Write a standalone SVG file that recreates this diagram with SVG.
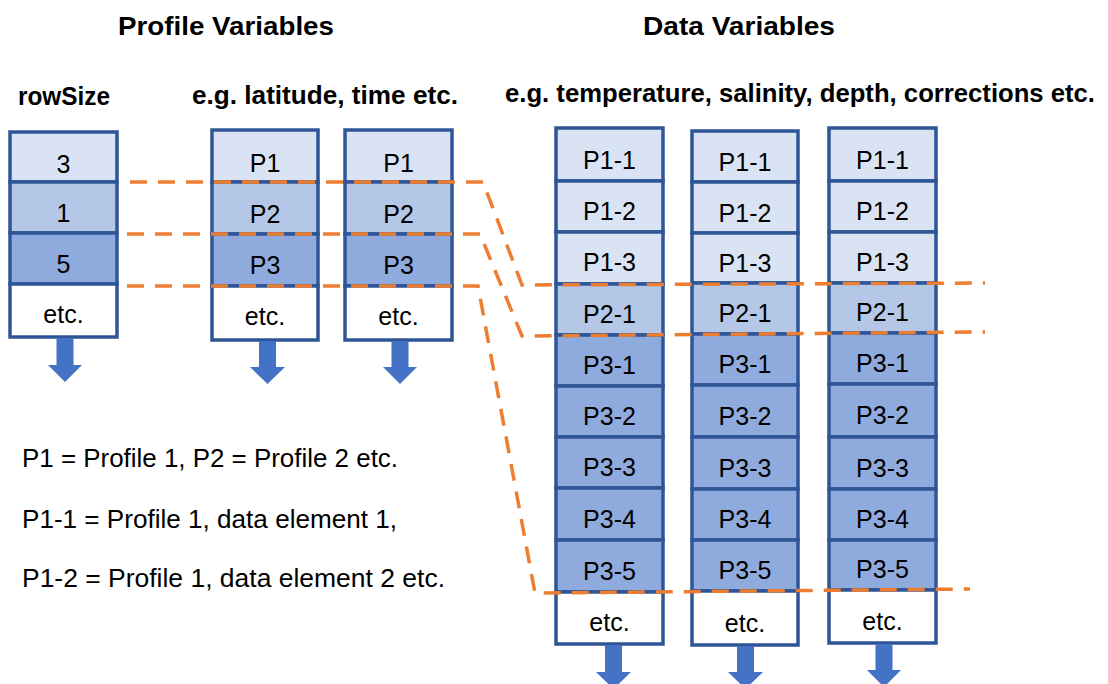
<svg xmlns="http://www.w3.org/2000/svg" width="1108" height="684" viewBox="0 0 1108 684">
<style>
.c{stroke:#2F5597;stroke-width:3.5}
.l1{fill:#DAE3F3}.l2{fill:#B4C7E7}.l3{fill:#8FAADC}.l0{fill:#FFFFFF}
.t{font-family:"Liberation Sans",Arial,sans-serif;font-size:25px;fill:#000;text-anchor:middle}
.h{font-family:"Liberation Sans",Arial,sans-serif;font-size:26px;font-weight:bold;fill:#000}
.n{font-family:"Liberation Sans",Arial,sans-serif;font-size:26px;fill:#000}
.arr{fill:#4472C4}
.d{fill:none;stroke:#ED7D31;stroke-width:3.5;stroke-dasharray:17 11}
</style>
<rect width="1108" height="684" fill="#FFFFFF"/>
<g id="headings">
<text class="h" x="118" y="35" textLength="216" lengthAdjust="spacingAndGlyphs">Profile Variables</text>
<text class="h" x="643" y="35" textLength="192" lengthAdjust="spacingAndGlyphs">Data Variables</text>
<text class="h" x="18" y="105" textLength="92" lengthAdjust="spacingAndGlyphs">rowSize</text>
<text class="h" x="192" y="104" textLength="266" lengthAdjust="spacingAndGlyphs">e.g. latitude, time etc.</text>
<text class="h" x="505" y="102" textLength="590" lengthAdjust="spacingAndGlyphs">e.g. temperature, salinity, depth, corrections etc.</text>
</g>
<g id="rowSize">
<rect class="c l1" x="10" y="132" width="107" height="50"/>
<rect class="c l2" x="10" y="182" width="107" height="51"/>
<rect class="c l3" x="10" y="233" width="107" height="51"/>
<rect class="c l0" x="10" y="284" width="107" height="53"/>
<text class="t" x="63.5" y="173">3</text>
<text class="t" x="63.5" y="222">1</text>
<text class="t" x="63.5" y="273">5</text>
<text class="t" x="63.5" y="323">etc.</text>
<path class="arr" d="M56.5,338 H73.5 V365 H82 L65,382 L48,365 H56.5 Z"/>
</g>
<g id="profileA">
<rect class="c l1" x="212" y="130" width="106" height="52"/>
<rect class="c l2" x="212" y="182" width="106" height="52"/>
<rect class="c l3" x="212" y="234" width="106" height="52"/>
<rect class="c l0" x="212" y="286" width="106" height="54"/>
<text class="t" x="265" y="172">P1</text>
<text class="t" x="265" y="223">P2</text>
<text class="t" x="265" y="274">P3</text>
<text class="t" x="265" y="325">etc.</text>
<path class="arr" d="M259,341 H276 V367 H285 L267.5,384 L250,367 H259 Z"/>
</g>
<g id="profileB">
<rect class="c l1" x="345" y="130" width="107" height="52"/>
<rect class="c l2" x="345" y="182" width="107" height="52"/>
<rect class="c l3" x="345" y="234" width="107" height="52"/>
<rect class="c l0" x="345" y="286" width="107" height="54"/>
<text class="t" x="398.5" y="172">P1</text>
<text class="t" x="398.5" y="223">P2</text>
<text class="t" x="398.5" y="274">P3</text>
<text class="t" x="398.5" y="325">etc.</text>
<path class="arr" d="M391.5,341 H408.5 V367 H417 L400,384 L383,367 H391.5 Z"/>
</g>
<g id="data1">
<rect class="c l1" x="556" y="128" width="107" height="53"/>
<rect class="c l1" x="556" y="181" width="107" height="51"/>
<rect class="c l1" x="556" y="232" width="107" height="52"/>
<rect class="c l2" x="556" y="284" width="107" height="51"/>
<rect class="c l3" x="556" y="335" width="107" height="51"/>
<rect class="c l3" x="556" y="386" width="107" height="51"/>
<rect class="c l3" x="556" y="437" width="107" height="51"/>
<rect class="c l3" x="556" y="488" width="107" height="52"/>
<rect class="c l3" x="556" y="540" width="107" height="52"/>
<rect class="c l0" x="556" y="592" width="107" height="52"/>
<text class="t" x="609.5" y="169">P1-1</text>
<text class="t" x="609.5" y="220">P1-2</text>
<text class="t" x="609.5" y="271">P1-3</text>
<text class="t" x="609.5" y="323">P2-1</text>
<text class="t" x="609.5" y="374">P3-1</text>
<text class="t" x="609.5" y="425">P3-2</text>
<text class="t" x="609.5" y="476">P3-3</text>
<text class="t" x="609.5" y="528">P3-4</text>
<text class="t" x="609.5" y="580">P3-5</text>
<text class="t" x="609.5" y="631">etc.</text>
<path class="arr" d="M605,645 H622 V672 H631 L613.5,689 L596,672 H605 Z"/>
</g>
<g id="data2">
<rect class="c l1" x="692" y="131" width="106" height="51"/>
<rect class="c l1" x="692" y="182" width="106" height="51"/>
<rect class="c l1" x="692" y="233" width="106" height="50"/>
<rect class="c l2" x="692" y="283" width="106" height="51"/>
<rect class="c l3" x="692" y="334" width="106" height="51"/>
<rect class="c l3" x="692" y="385" width="106" height="52"/>
<rect class="c l3" x="692" y="437" width="106" height="52"/>
<rect class="c l3" x="692" y="489" width="106" height="51"/>
<rect class="c l3" x="692" y="540" width="106" height="51"/>
<rect class="c l0" x="692" y="591" width="106" height="54"/>
<text class="t" x="745" y="171">P1-1</text>
<text class="t" x="745" y="222">P1-2</text>
<text class="t" x="745" y="272">P1-3</text>
<text class="t" x="745" y="322">P2-1</text>
<text class="t" x="745" y="373">P3-1</text>
<text class="t" x="745" y="425">P3-2</text>
<text class="t" x="745" y="477">P3-3</text>
<text class="t" x="745" y="528">P3-4</text>
<text class="t" x="745" y="579">P3-5</text>
<text class="t" x="745" y="632">etc.</text>
<path class="arr" d="M737,646 H754 V672 H763 L745.5,689 L728,672 H737 Z"/>
</g>
<g id="data3">
<rect class="c l1" x="829" y="128" width="107" height="53"/>
<rect class="c l1" x="829" y="181" width="107" height="51"/>
<rect class="c l1" x="829" y="232" width="107" height="51"/>
<rect class="c l2" x="829" y="283" width="107" height="50"/>
<rect class="c l3" x="829" y="333" width="107" height="51"/>
<rect class="c l3" x="829" y="384" width="107" height="53"/>
<rect class="c l3" x="829" y="437" width="107" height="52"/>
<rect class="c l3" x="829" y="489" width="107" height="51"/>
<rect class="c l3" x="829" y="540" width="107" height="50"/>
<rect class="c l0" x="829" y="590" width="107" height="53"/>
<text class="t" x="882.5" y="169">P1-1</text>
<text class="t" x="882.5" y="220">P1-2</text>
<text class="t" x="882.5" y="271">P1-3</text>
<text class="t" x="882.5" y="321">P2-1</text>
<text class="t" x="882.5" y="372">P3-1</text>
<text class="t" x="882.5" y="424">P3-2</text>
<text class="t" x="882.5" y="477">P3-3</text>
<text class="t" x="882.5" y="528">P3-4</text>
<text class="t" x="882.5" y="578">P3-5</text>
<text class="t" x="882.5" y="630">etc.</text>
<path class="arr" d="M875.5,644 H892.5 V670 H901 L884,687 L867,670 H875.5 Z"/>
</g>
<g id="connectors">
<path class="d" d="M130,182 H483 L522,285 L985,283"/>
<path class="d" d="M127,234 H480 L522,336 L985,332"/>
<path class="d" d="M127,286 H478 L535,593 L970,589"/>
</g>
<g id="legend">
<text class="n" x="22" y="467" textLength="376" lengthAdjust="spacingAndGlyphs">P1 = Profile 1, P2 = Profile 2 etc.</text>
<text class="n" x="22" y="528" textLength="375" lengthAdjust="spacingAndGlyphs">P1-1 = Profile 1, data element 1,</text>
<text class="n" x="22" y="587" textLength="423" lengthAdjust="spacingAndGlyphs">P1-2 = Profile 1, data element 2 etc.</text>
</g>
</svg>
